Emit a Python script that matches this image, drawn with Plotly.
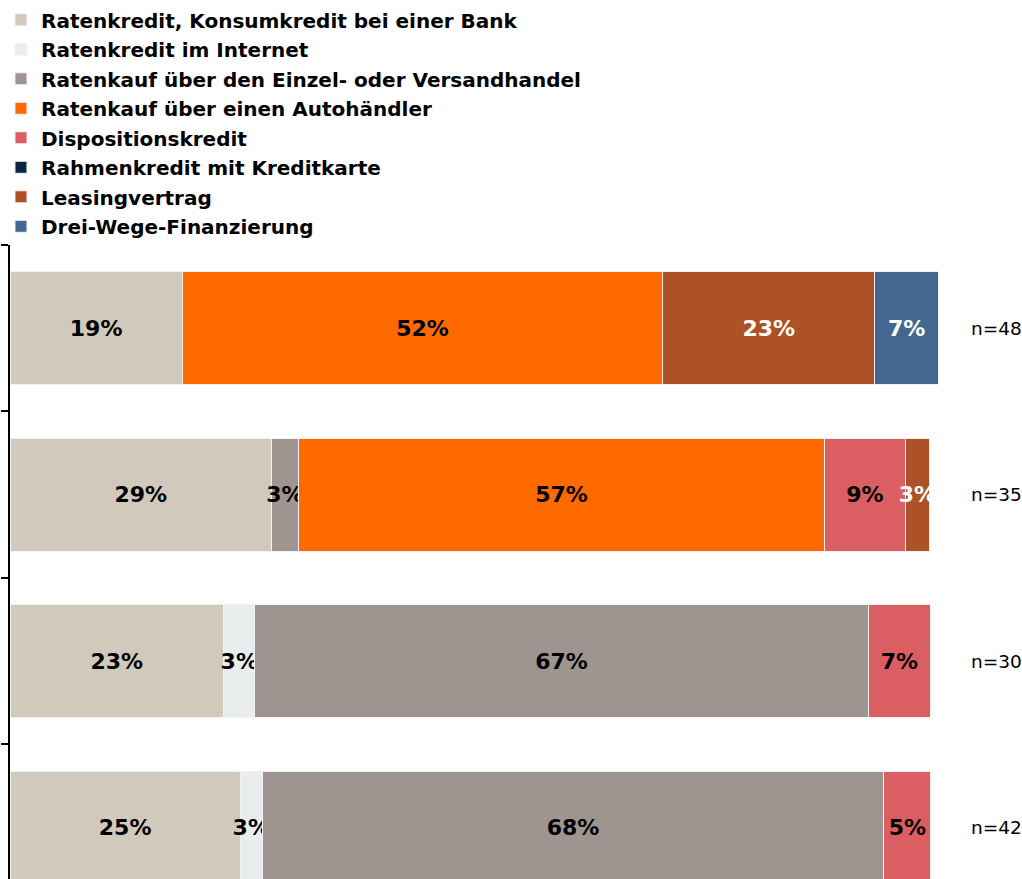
import plotly.graph_objects as go

# Rows (top to bottom), identified by sample size
sample_sizes = ["n=48", "n=35", "n=30", "n=42"]

series_names = [
    "Ratenkredit, Konsumkredit bei einer Bank",
    "Ratenkredit im Internet",
    "Ratenkauf über den Einzel- oder Versandhandel",
    "Ratenkauf über einen Autohändler",
    "Dispositionskredit",
    "Rahmenkredit mit Kreditkarte",
    "Leasingvertrag",
    "Drei-Wege-Finanzierung",
]

# Estimated shares (%) per row
bank       = [18.7, 28.4, 23.2, 25.0]
internet   = [0.0, 0.0, 3.4, 2.4]
handel     = [0.0, 2.9, 66.6, 67.5]
autohaus   = [52.2, 57.2, 0.0, 0.0]
dispo      = [0.0, 8.7, 6.8, 5.1]
rahmen     = [0.0, 0.0, 0.0, 0.0]
leasing    = [23.0, 2.7, 0.0, 0.0]
dreiwege   = [6.95, 0.0, 0.0, 0.0]

# Printed labels
bank_lbl     = ["19%", "29%", "23%", "25%"]
internet_lbl = ["", "", "3%", "3%"]
handel_lbl   = ["", "3%", "67%", "68%"]
autohaus_lbl = ["52%", "57%", "", ""]
dispo_lbl    = ["", "9%", "7%", "5%"]
rahmen_lbl   = ["", "", "", ""]
leasing_lbl  = ["23%", "3%", "", ""]
dreiwege_lbl = ["7%", "", "", ""]

values = [bank, internet, handel, autohaus, dispo, rahmen, leasing, dreiwege]
labels = [bank_lbl, internet_lbl, handel_lbl, autohaus_lbl, dispo_lbl, rahmen_lbl, leasing_lbl, dreiwege_lbl]
colors = ["#D1C9BC", "#E9EDEE", "#9E9590", "#FF6A00", "#DB5F62", "#0C2641", "#AD5226", "#42688F"]
text_colors = ["black", "black", "black", "black", "black", "white", "white", "white"]

FONT = "DejaVu Sans"

fig = go.Figure()
for i, name in enumerate(series_names):
    fig.add_trace(go.Bar(
        y=sample_sizes,
        x=values[i],
        name=name,
        orientation="h",
        legendgroup=f"g{i}",
        marker=dict(color=colors[i], line=dict(color="#F2F2F2", width=1)),
        text=labels[i],
        textposition="inside",
        insidetextanchor="middle",
        textangle=0,
        constraintext="none",
        cliponaxis=False,
        textfont=dict(family=FONT, size=22, color=text_colors[i], weight="bold"),
        hoverinfo="skip",
    ))

for s in sample_sizes:
    fig.add_annotation(
        x=1.031, xref="paper", xanchor="left",
        y=s, yref="y", yanchor="middle",
        text=s, showarrow=False,
        font=dict(family=FONT, size=18.5, color="black"),
    )

fig.update_layout(
    width=1022, height=879,
    margin=dict(l=10, r=82, t=245, b=0),
    barmode="stack",
    bargap=0.32,
    plot_bgcolor="white",
    paper_bgcolor="white",
    showlegend=True,
    legend=dict(
        x=-0.0097, xanchor="left",
        y=1.386, yanchor="top",
        traceorder="grouped",
        tracegroupgap=0.5,
        font=dict(family=FONT, size=20, color="black", weight="bold"),
        bgcolor="rgba(0,0,0,0)",
    ),
    xaxis=dict(range=[0, 101], visible=False, showgrid=False, zeroline=False),
    yaxis=dict(
        type="category",
        categoryorder="array",
        categoryarray=sample_sizes,
        range=[3.308, -0.5],
        showticklabels=False,
        tickson="boundaries",
        ticks="outside",
        ticklen=7,
        tickwidth=1.5,
        tickcolor="black",
        showline=True,
        linecolor="black",
        linewidth=2,
        showgrid=False,
        zeroline=False,
    ),
)

fig.write_html(
    "out.html",
    config={"displayModeBar": False},
    post_script="document.body.style.margin='0';",
)
